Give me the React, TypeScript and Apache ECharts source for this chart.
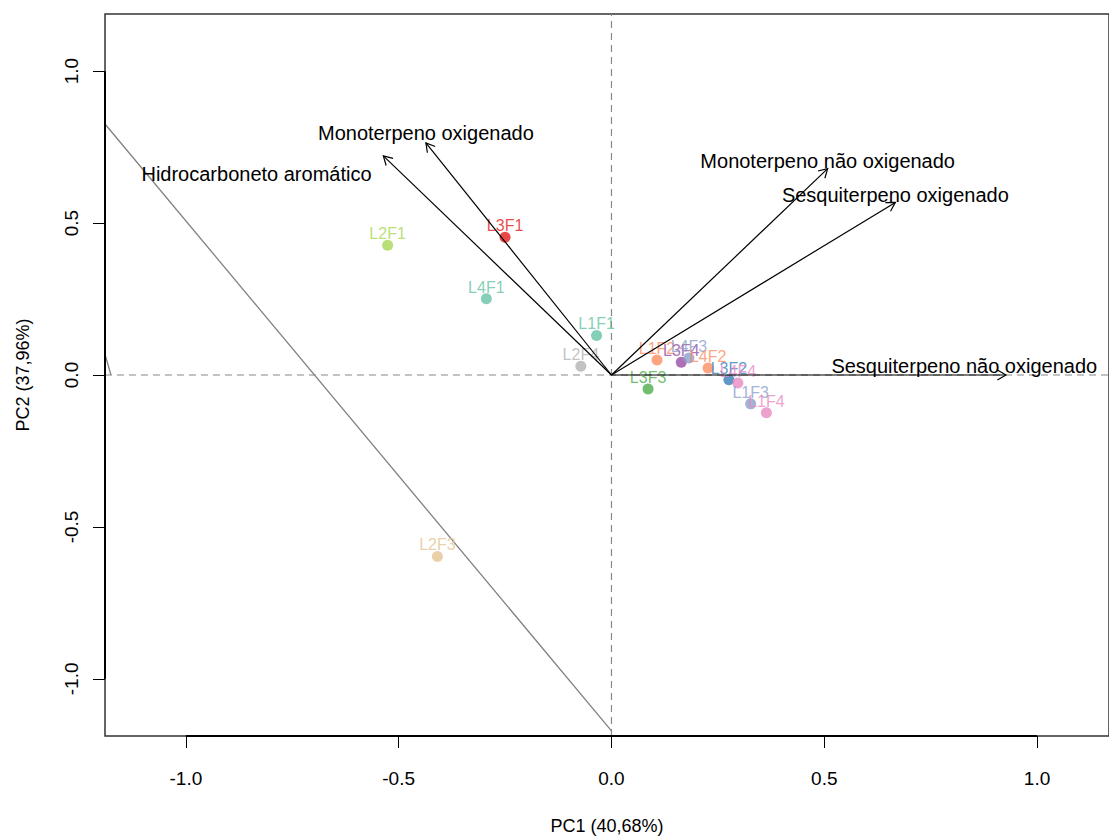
import React, { useEffect, useRef } from "react";
import * as echarts from "echarts";

const FONT = "'Liberation Sans', Arial, sans-serif";

// Sample scores
const sampleNames = ["L3F1", "L2F1", "L4F1", "L1F1", "L2F4", "L3F3", "L2F3", "L1F2", "L3F4", "L4F3", "L4F2", "L3F2", "L4F4", "L1F3", "L1F4"];
const pc1 = [-0.25, -0.526, -0.294, -0.035, -0.072, 0.086, -0.409, 0.107, 0.164, 0.182, 0.227, 0.276, 0.297, 0.327, 0.364];
const pc2 = [0.453, 0.427, 0.251, 0.13, 0.029, -0.046, -0.597, 0.049, 0.042, 0.056, 0.023, -0.016, -0.026, -0.095, -0.124];
const sampleColors = ["#E41A1C", "#A6D854", "#66C2A5", "#66C2A5", "#B3B3B3", "#4DAF4A", "#E5C494", "#FC8D62", "#984EA3", "#8DA0CB", "#FC8D62", "#377EB8", "#E78AC3", "#8DA0CB", "#E78AC3"];

// Variable loadings (arrows)
const varNames = ["Monoterpeno oxigenado", "Hidrocarboneto aromático", "Monoterpeno não oxigenado", "Sesquiterpeno oxigenado", "Sesquiterpeno não oxigenado"];
const varX = [-0.436, -0.536, 0.508, 0.667, 0.927];
const varY = [0.764, 0.721, 0.679, 0.568, 0.0];
const varLabelX = [-0.436, -0.834, 0.508, 0.667, 0.829];
const varLabelY = [0.796, 0.663, 0.705, 0.594, 0.029];

// Gray reference lines
const grayLine = [[-1.19, 0.826], [0, -1.171]];
const grayStub = [[-1.19, 0.068], [-1.176, 0]];

const tickValues = [-1, -0.5, 0, 0.5, 1];
const xName = "PC1 (40,68%)";
const yName = "PC2 (37,96%)";
const X_MIN = -1.19, X_MAX = 1.169, Y_MIN = -1.188, Y_MAX = 1.188;

export default function App() {
  const ref = useRef<HTMLDivElement>(null);
  useEffect(() => {
    document.body.style.margin = "0";
    const chart = echarts.init(ref.current!, null, { renderer: "svg" });
    const scatterData = sampleNames.map((n, i) => ({
      name: n,
      value: [pc1[i], pc2[i]],
      itemStyle: { color: sampleColors[i] },
      label: { color: sampleColors[i] },
    }));
    const arrowData = varNames.map((_, i) => [0, 0, varX[i], varY[i]]);
    const labelData = varNames.map((_, i) => [varLabelX[i], varLabelY[i], i]);
    const axisSegData = [[-1, Y_MIN, 1, Y_MIN], [X_MIN, -1, X_MIN, 1]];

    chart.setOption({
      animation: false,
      grid: { left: 105, top: 14, right: -3, bottom: 98, show: true, borderColor: "#333", borderWidth: 1.5, backgroundColor: "transparent" },
      xAxis: {
        type: "value", min: X_MIN, max: X_MAX, position: "bottom",
        name: xName, nameLocation: "middle", nameGap: 81,
        nameTextStyle: { fontFamily: FONT, fontSize: 18, color: "#000" },
        axisLine: { show: false, onZero: false },
        axisTick: { show: true, inside: false, length: 12, customValues: tickValues, lineStyle: { color: "#000", width: 1 } },
        axisLabel: { customValues: tickValues, formatter: (v: number) => v.toFixed(1), fontFamily: FONT, fontSize: 19, color: "#000", margin: 33 },
        splitLine: { show: false },
      },
      yAxis: {
        type: "value", min: Y_MIN, max: Y_MAX, position: "left",
        name: yName, nameLocation: "middle", nameGap: 73, nameRotate: 90,
        nameTextStyle: { fontFamily: FONT, fontSize: 18, color: "#000" },
        axisLine: { show: false, onZero: false },
        axisTick: { show: true, inside: false, length: 12, customValues: tickValues, lineStyle: { color: "#000", width: 1 } },
        axisLabel: { customValues: tickValues, rotate: 90, formatter: (v: number) => v.toFixed(1), fontFamily: FONT, fontSize: 19, color: "#000", margin: 24 },
        splitLine: { show: false },
      },
      series: [
        {
          type: "line", data: [[X_MIN, 0], [X_MAX, 0]], symbol: "none", silent: true,
          lineStyle: { color: "#888", width: 1.2, type: [7, 5] }, z: 1,
        },
        {
          type: "line", data: [[0, Y_MIN], [0, Y_MAX]], symbol: "none", silent: true,
          lineStyle: { color: "#888", width: 1.2, type: [7, 5] }, z: 1,
        },
        {
          type: "line", data: grayLine, symbol: "none", silent: true,
          lineStyle: { color: "#808080", width: 1.3 }, z: 2,
        },
        {
          type: "line", data: grayStub, symbol: "none", silent: true,
          lineStyle: { color: "#808080", width: 1.3 }, z: 2,
        },
        {
          type: "custom", clip: false, silent: true, z: 3,
          data: axisSegData,
          renderItem: (params: any, api: any) => {
            const p0 = api.coord([api.value(0), api.value(1)]);
            const p1 = api.coord([api.value(2), api.value(3)]);
            return { type: "line", shape: { x1: p0[0], y1: p0[1], x2: p1[0], y2: p1[1] }, style: { stroke: "#000", lineWidth: 2 } };
          },
        },
        {
          type: "scatter", data: scatterData, symbol: "circle", symbolSize: 11, z: 4,
          label: { show: true, position: "top", distance: -2, formatter: "{b}", fontFamily: FONT, fontSize: 16 },
        },
        {
          type: "custom", silent: true, z: 5,
          data: arrowData,
          renderItem: (params: any, api: any) => {
            const p0 = api.coord([api.value(0), api.value(1)]);
            const p1 = api.coord([api.value(2), api.value(3)]);
            const a = Math.atan2(p1[1] - p0[1], p1[0] - p0[0]);
            const L = 10, t = Math.PI / 6;
            const h1 = [p1[0] - L * Math.cos(a - t), p1[1] - L * Math.sin(a - t)];
            const h2 = [p1[0] - L * Math.cos(a + t), p1[1] - L * Math.sin(a + t)];
            return {
              type: "group",
              children: [
                { type: "line", shape: { x1: p0[0], y1: p0[1], x2: p1[0], y2: p1[1] }, style: { stroke: "#000", lineWidth: 1.2 } },
                { type: "polyline", shape: { points: [h1, p1, h2] }, style: { stroke: "#000", fill: "none", lineWidth: 1.2 } },
              ],
            };
          },
        },
        {
          type: "custom", silent: true, z: 6,
          data: labelData,
          renderItem: (params: any, api: any) => {
            const p = api.coord([api.value(0), api.value(1)]);
            const i = api.value(2);
            return {
              type: "text",
              style: { text: varNames[i], x: p[0], y: p[1], align: "center", verticalAlign: "middle", fill: "#000", fontSize: 20, fontFamily: FONT },
            };
          },
        },
      ],
    });
    return () => chart.dispose();
  }, []);
  return <div ref={ref} style={{ width: 1109, height: 840 }} />;
}
